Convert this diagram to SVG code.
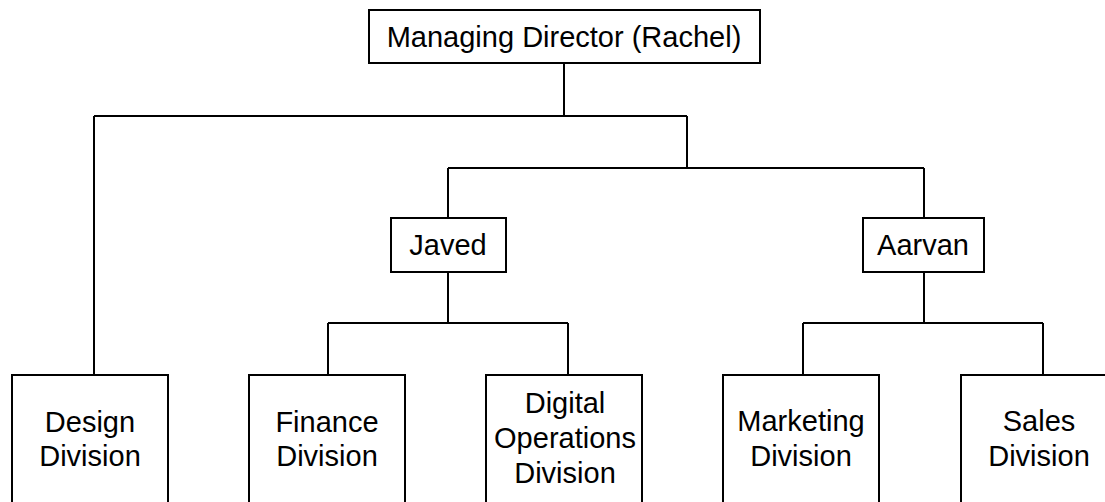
<svg xmlns="http://www.w3.org/2000/svg" width="1105" height="502" viewBox="0 0 1105 502">
<style>
.box{fill:#fff;stroke:#000;stroke-width:2}
.lbl{font-family:"Liberation Sans",Arial,sans-serif;font-size:29px;fill:#000;text-anchor:middle}
.conn{fill:none;stroke:#000;stroke-width:2}
</style>
<rect width="1105" height="502" fill="#fff"/>
<g id="connectors">
<path class="conn" d="M564 63V116M94 116H687M94 116V375M687 116V168M448 168H924M448 168V218M924 168V218"/>
<path class="conn" d="M448 272V323M328 323H568M328 323V375M568 323V375"/>
<path class="conn" d="M924 272V323M803 323H1043M803 323V375M1043 323V375"/>
</g>
<g id="md">
<rect class="box" x="369" y="10" width="391" height="53"/>
<text class="lbl" x="564" y="47">Managing Director (Rachel)</text>
</g>
<g id="javed">
<rect class="box" x="391" y="218" width="115" height="54"/>
<text class="lbl" x="448" y="255">Javed</text>
</g>
<g id="aarvan">
<rect class="box" x="863" y="218" width="121" height="54"/>
<text class="lbl" x="923" y="255">Aarvan</text>
</g>
<g id="design">
<rect class="box" x="12" y="375" width="156" height="140"/>
<text class="lbl" x="90" y="432">Design</text>
<text class="lbl" x="90" y="466">Division</text>
</g>
<g id="finance">
<rect class="box" x="249" y="375" width="156" height="140"/>
<text class="lbl" x="327" y="432">Finance</text>
<text class="lbl" x="327" y="466">Division</text>
</g>
<g id="digital">
<rect class="box" x="486" y="375" width="156" height="140"/>
<text class="lbl" x="565" y="413">Digital</text>
<text class="lbl" x="565" y="448">Operations</text>
<text class="lbl" x="565" y="483">Division</text>
</g>
<g id="marketing">
<rect class="box" x="723" y="375" width="156" height="140"/>
<text class="lbl" x="801" y="431">Marketing</text>
<text class="lbl" x="801" y="466">Division</text>
</g>
<g id="sales">
<rect class="box" x="961" y="375" width="156" height="140"/>
<text class="lbl" x="1039" y="431">Sales</text>
<text class="lbl" x="1039" y="466">Division</text>
</g>
</svg>
